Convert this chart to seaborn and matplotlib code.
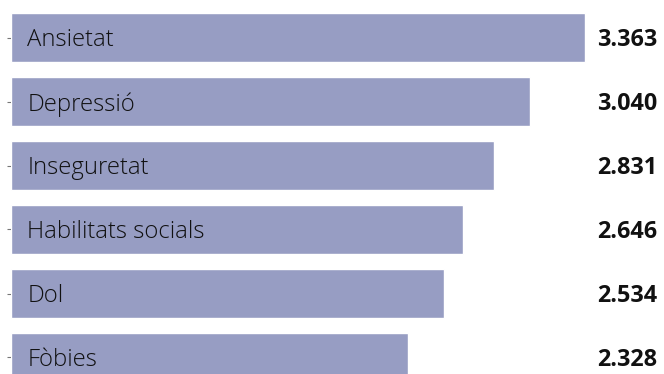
import seaborn as sns
import matplotlib.pyplot as plt
import pandas as pd

categories = ['Ansietat', 'Depressió', 'Inseguretat', 'Habilitats socials', 'Dol', 'Fòbies']
values = [3.363, 3.040, 2.831, 2.646, 2.534, 2.328]
value_labels = ['3.363', '3.040', '2.831', '2.646', '2.534', '2.328']

df = pd.DataFrame({'categoria': categories, 'valor': values})

sns.set_style('white')
plt.rcParams['font.family'] = ['Open Sans', 'DejaVu Sans']

fig = plt.figure(figsize=(6.64, 3.74), dpi=100)
ax = fig.add_axes([11 / 664, 0, 653 / 664, 1])

sns.barplot(data=df, y='categoria', x='valor', orient='h', color='#979dc3',
            saturation=1, width=0.766, ax=ax)

ax.set_xlim(0, 653 / 170.7)
ax.set_ylim((374 - 37.5) / 64, -37.5 / 64)
for s in ax.spines.values():
    s.set_visible(False)
ax.set_xticks([])
ax.set_yticklabels([])
ax.tick_params(axis='y', left=True, length=3, width=0.8, color='#777777', pad=0)
ax.set_xlabel('')
ax.set_ylabel('')

for i, (cat, lab) in enumerate(zip(categories, value_labels)):
    ax.text(0.095, i, cat, va='center_baseline', ha='left', fontsize=17.2,
            fontweight='light', color='#111111')
    ax.text(0.9895, i, lab, transform=ax.get_yaxis_transform(), va='center_baseline',
            ha='right', fontsize=16.8, fontweight='bold', color='#111111')

fig.savefig('out.png', dpi=100)
